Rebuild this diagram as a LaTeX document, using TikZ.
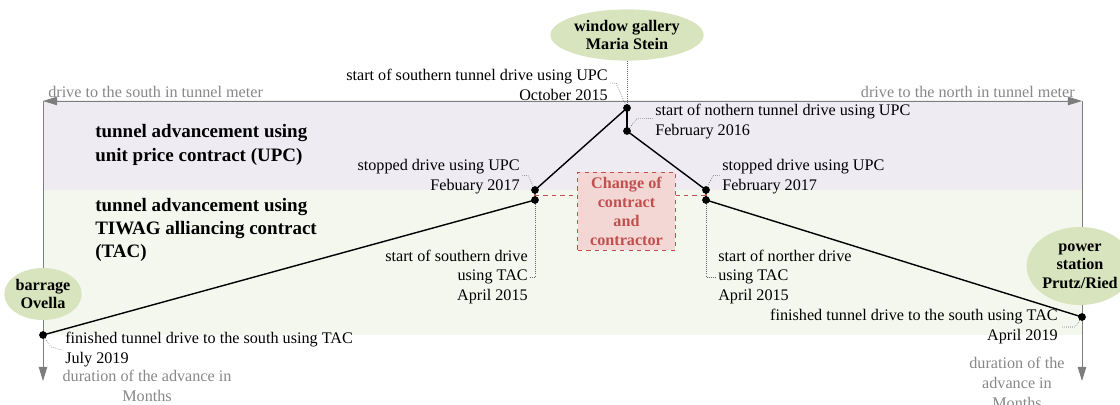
\documentclass[tikz,border=0pt]{standalone}
\usepackage{fontspec}
\setmainfont{Liberation Serif}
\usetikzlibrary{arrows.meta,shapes.geometric}
\definecolor{lav}{RGB}{238,235,243}
\definecolor{grn}{RGB}{244,247,237}
\definecolor{ell}{RGB}{215,228,189}
\definecolor{boxfill}{RGB}{243,215,213}
\definecolor{redc}{RGB}{192,80,77}
\definecolor{graytxt}{RGB}{135,135,135}
\definecolor{framec}{RGB}{125,125,125}
\begin{document}
\begin{tikzpicture}[x=0.025cm,y=-0.025cm,
  txt/.style={font=\fontsize{11.5}{14.2}\selectfont, inner sep=0pt},
  lblL/.style={txt, align=left, anchor=west},
  lblR/.style={txt, align=right, anchor=east},
  gtxt/.style={txt, text=graytxt},
  bigb/.style={font=\fontsize{13.5}{16.5}\selectfont\bfseries, align=left, anchor=west, inner sep=0pt},
  place/.style={ellipse, fill=ell, font=\fontsize{11.5}{13}\selectfont\bfseries, align=center, inner sep=0pt},
  chgbox/.style={draw=redc, dashed, fill=boxfill, text=redc, line width=0.6pt,
    font=\fontsize{11.5}{13.5}\selectfont\bfseries, align=center, inner sep=0pt},
  dot/.style={circle, fill=black, inner sep=0pt, minimum size=5.5pt},
  drive/.style={line width=1pt, black},
  leader/.style={densely dotted, line width=0.45pt, black!60},
  axis/.style={draw=framec, line width=0.7pt},
  tipd/.style={-{Triangle[length=10pt,width=6pt]}},
  tipb/.style={{Triangle[length=10pt,width=6pt]}-{Triangle[length=10pt,width=6pt]}}
]
\useasboundingbox (0,0) rectangle (1120,405);
\clip (0,0) rectangle (1120,405);

% bands
\fill[lav] (43,101) rectangle (1082,190);
\fill[grn] (43,190) rectangle (1082,335);

% frame
\coordinate (TL) at (43,101);
\coordinate (TR) at (1082,101);
\coordinate (BL) at (43,381);
\coordinate (BR) at (1082,381);
\draw[axis, tipb, fill=framec] (TL) -- (TR);
\draw[axis, tipd] (TL) -- (BL);
\draw[axis, tipd] (TR) -- (BR);

% places
\node[place, minimum width=3.83cm, minimum height=1.28cm] (win) at (627,35) {window gallery\\Maria Stein};
\node[place, minimum width=1.83cm, minimum height=1.3cm] (ovella) at (43,294) {barrage\\Ovella};
\node[place, minimum width=2.45cm, minimum height=1.95cm] (prutz) at (1080,266) {power\\station\\Prutz/Ried};

% change box
\node[chgbox, minimum width=2.43cm, minimum height=1.95cm] (chg) at (626.5,211) {Change of\\contract\\and\\contractor};

% key points
\coordinate (pA) at (627,108);
\coordinate (pB) at (627,131);
\coordinate (pC1) at (535,190);
\coordinate (pC2) at (535,200);
\coordinate (pD1) at (706,190);
\coordinate (pD2) at (706,200);
\coordinate (pE) at (43,335);
\coordinate (pF) at (1082,317);
\coordinate (cm) at (535,195.5);
\coordinate (dm) at (706,195.5);

\draw[leader] (win.south) -- (pA);
\draw[drive] (pA) -- (pB);
\draw[drive] (pA) -- (pC1);
\draw[drive] (pB) -- (pD1);
\draw[drive] (pC2) -- (pE);
\draw[drive] (pD2) -- (pF);
\draw[redc, dashed, line width=0.6pt] (cm) -- (chg.west |- cm);
\draw[redc, dashed, line width=0.6pt] (chg.east |- dm) -- (dm);
\draw[redc, line width=1.6pt] (pC1) -- (pC2);
\draw[redc, line width=1.6pt] (pD1) -- (pD2);

\foreach \p/\n in {pA/A,pB/B,pC1/C1,pC2/C2,pD1/D1,pD2/D2,pE/E,pF/F}
  \node[dot] (\n) at (\p) {};

% labels
\node[lblR] (tA) at (608,84.5) {start of southern tunnel drive using UPC\\October 2015};
\node[lblL] (tB) at (655,121.5) {start of nothern tunnel drive using UPC\\February 2016};
\node[lblR] (tC) at (520,177) {stopped drive using UPC\\Febuary 2017};
\node[lblL] (tD) at (722,177) {stopped drive using UPC\\February 2017};
\node[lblR] (tC2) at (528,277) {start of southern drive\\using TAC\\April 2015};
\node[lblL] (tD2) at (718,277) {start of norther drive\\using TAC\\April 2015};
\node[lblL] (tE) at (65,350) {finished tunnel drive to the south using TAC\\July 2019};
\node[lblR] (tF) at (1058,327) {finished tunnel drive to the south using TAC\\April 2019};
\node[gtxt, align=center] (durL) at (147,386) {duration of the advance in\\Months};
\node[gtxt, align=center] (durR) at (1017,383) {duration of the\\advance in\\Months};
\node[gtxt, anchor=west] (south) at (48,92) {drive to the south in tunnel meter};
\node[gtxt, anchor=east] (north) at (1075,92) {drive to the north in tunnel meter};
\node[bigb] (upc) at (95,145) {tunnel advancement using\\unit price contract (UPC)};
\node[bigb] (tac) at (95,230) {tunnel advancement using\\TIWAG alliancing contract\\(TAC)};

% leaders
\draw[leader] ([xshift=1.5pt,yshift=1pt]tA.east) -- ++(6,0) -- (A);
\draw[leader] ([xshift=-1.5pt,yshift=2pt]tB.west) -- ++(-16,0) -- (B);
\draw[leader] ([xshift=1.5pt,yshift=1pt]tC.east) -- ++(6,0) -- (C1);
\draw[leader] ([xshift=-1.5pt,yshift=1pt]tD.west) -- ++(-7,0) -- (D1);
\draw[leader] (C2) -- (C2 |- tC2.east) -- ([xshift=1pt]tC2.east);
\draw[leader] (D2) -- (D2 |- tD2.west) -- ([xshift=-1pt]tD2.west);
\draw[leader] (E) -- ++(8,12) -- ([xshift=-2pt]tE.west);
\draw[leader] (F) -- ++(-7,10) -- ([xshift=2pt]tF.east);
\end{tikzpicture}
\end{document}
